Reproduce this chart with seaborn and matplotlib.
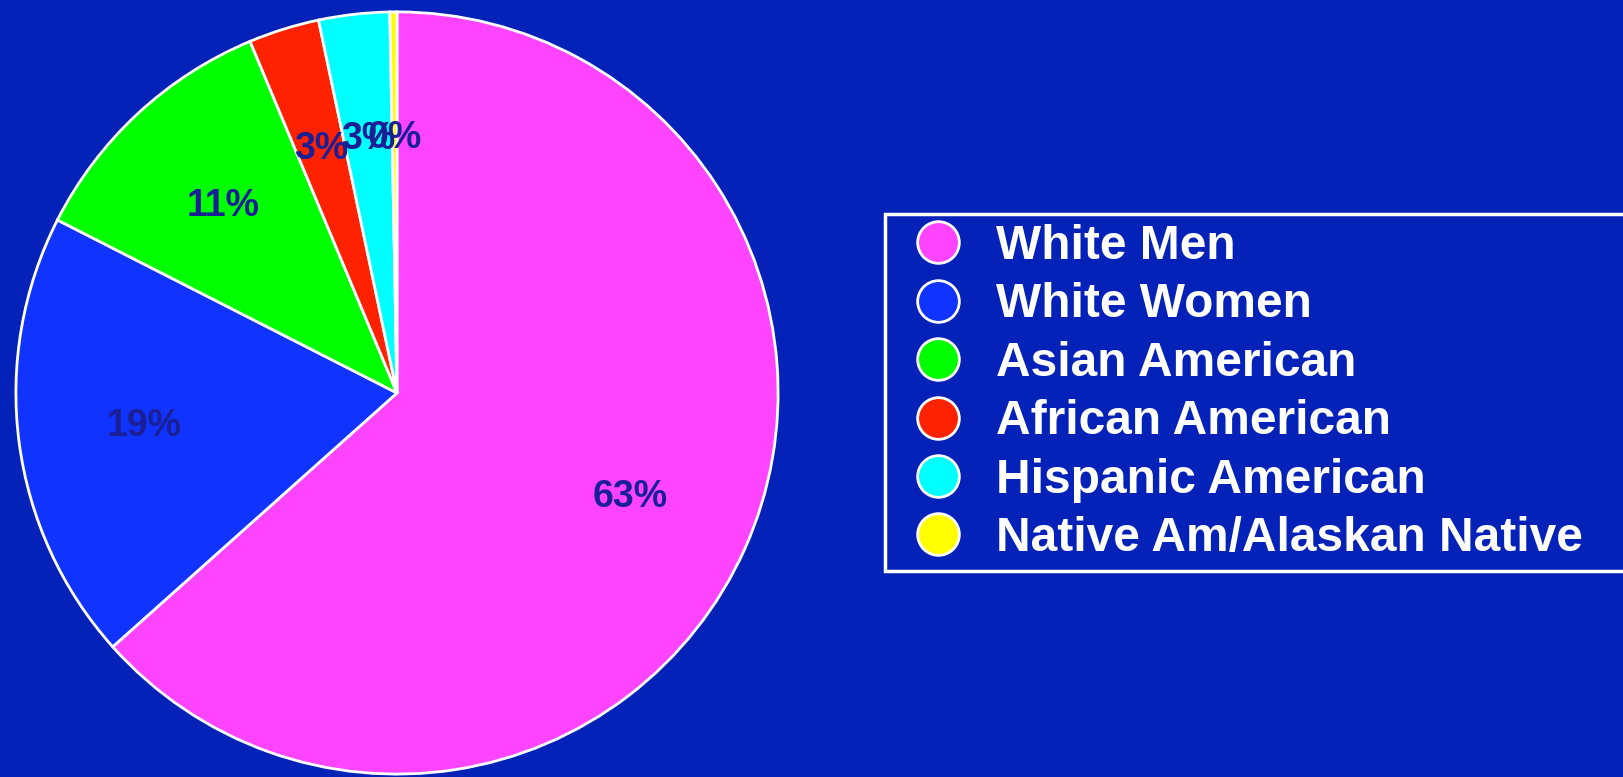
import matplotlib
matplotlib.use("Agg")
import matplotlib.pyplot as plt
from matplotlib.lines import Line2D
import seaborn as sns

categories = ["White Men", "White Women", "Asian American", "African American",
              "Hispanic American", "Native Am/Alaskan Native"]
values = [63.4, 19.1, 11.2, 3.0, 3.0, 0.3]
colors = ["#FF44FF", "#1133FF", "#00FF00", "#FF2200", "#00FFFF", "#FFFF00"]

bg = "#0522B8"
label_color = "#1A1F96"

sns.set_style("white")
plt.rcParams["font.family"] = ["Liberation Sans", "DejaVu Sans"]

W, H = 1624, 777
fig = plt.figure(figsize=(W / 100, H / 100), dpi=100, facecolor=bg)

cx, cy, r = 397, 393, 383
ax = fig.add_axes([(cx - r) / W, 1 - (cy + r) / H, 2 * r / W, 2 * r / H])
ax.set_facecolor(bg)
wedges, texts, autotexts = ax.pie(
    values, colors=colors, startangle=90, counterclock=False,
    autopct="%.0f%%", pctdistance=0.67, radius=1,
    wedgeprops=dict(edgecolor="white", linewidth=2),
    textprops=dict(color=label_color, fontsize=27, fontweight="bold"),
)
ax.set_xlim(-1.005, 1.005)
ax.set_ylim(-1.005, 1.005)
ax.set_aspect("equal")
ax.axis("off")

handles = [Line2D([0], [0], marker="o", linestyle="none", markersize=30,
                  markerfacecolor=c, markeredgecolor="white", markeredgewidth=2)
           for c in colors]
leg_top, leg_bottom = 214, 569
leg = fig.legend(handles, categories, loc="upper left",
                 bbox_to_anchor=(885 / W, 1 - leg_bottom / H, 0.5, (leg_bottom - leg_top) / H),
                 mode="expand",
                 frameon=True, fancybox=False, facecolor=bg, edgecolor="white",
                 framealpha=1, borderaxespad=0, borderpad=0.21,
                 labelspacing=0.28, handletextpad=0.31, handlelength=1.79,
                 prop=dict(family="Liberation Sans", weight="bold", size=34.5))
leg.get_frame().set_linewidth(2.5)
for t in leg.get_texts():
    t.set_color("white")

fig.savefig("out.png", dpi=100, facecolor=bg)
